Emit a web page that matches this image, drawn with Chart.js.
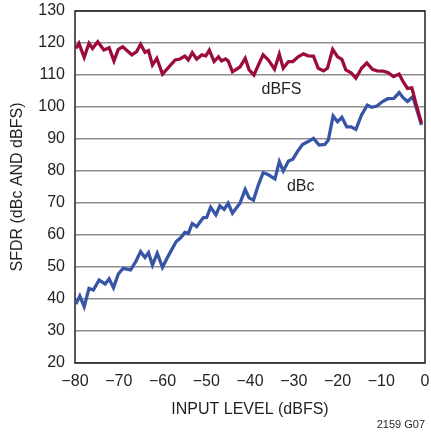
<!DOCTYPE html>
<html lang="en">
<head>
  <meta charset="UTF-8">
  <script src="https://cdn.jsdelivr.net/npm/chart.js"></script>
  <title>SFDR vs Input Level</title>
  <style>
    html, body { margin: 0; padding: 0; background: #fff; }
    #grafico { display: block; }
  </style>
</head>
<body>
  <canvas id="grafico" width="431" height="435"></canvas>

  <script>
    // dBFS curve (input level, SFDR)
    const nivelFS = [-79.8, -79.1, -77.9, -76.8, -76.0, -74.8, -73.4, -72.2, -71.1, -70.1, -69.1, -67.0, -65.9, -65.0, -64.0, -63.2, -62.3, -61.3, -60.0, -57.1, -56.0, -54.9, -54.1, -53.2, -52.2, -51.0, -50.1, -49.3, -48.2, -47.2, -46.5, -45.6, -45.0, -44.0, -42.3, -41.1, -40.2, -39.1, -38.1, -37.0, -35.8, -34.4, -33.3, -32.4, -31.2, -30.2, -29.0, -27.8, -26.7, -25.5, -24.4, -23.2, -22.3, -21.1, -20.0, -19.0, -18.1, -16.9, -15.8, -14.5, -13.3, -12.0, -11.0, -9.5, -8.4, -7.2, -5.9, -5.0, -4.0, -3.0, -2.1, -0.8];
    const sfdrFS = [118.3, 119.9, 115.5, 119.9, 118.3, 120.4, 117.8, 118.5, 114.4, 118.0, 118.8, 116.3, 117.3, 119.6, 117.1, 117.6, 113.1, 115.2, 110.3, 114.7, 115.0, 115.9, 114.7, 117.0, 115.0, 116.3, 116.0, 117.8, 114.2, 115.7, 114.4, 115.0, 114.4, 111.0, 112.5, 115.2, 111.6, 110.0, 113.1, 116.3, 114.7, 111.8, 116.5, 112.1, 114.2, 114.2, 115.7, 116.6, 116.0, 115.9, 112.1, 111.3, 112.1, 118.0, 115.7, 114.9, 111.6, 110.7, 109.0, 112.1, 113.8, 111.8, 111.3, 111.2, 110.7, 109.5, 110.3, 107.9, 105.8, 106.0, 101.2, 94.9];

    // dBc curve
    const nivelC = [-79.8, -78.9, -77.9, -76.8, -75.8, -74.5, -73.1, -72.2, -71.2, -70.1, -69.0, -67.3, -66.1, -65.0, -64.0, -63.2, -62.3, -61.2, -60.0, -58.7, -56.9, -55.8, -54.9, -54.1, -53.2, -52.2, -50.7, -49.9, -49.0, -47.8, -46.9, -45.9, -45.0, -44.0, -42.3, -41.1, -40.2, -39.2, -38.1, -37.0, -35.8, -34.3, -33.3, -32.4, -31.2, -30.2, -29.2, -28.0, -26.7, -25.5, -24.2, -22.9, -22.1, -21.0, -20.0, -19.0, -17.9, -16.9, -15.8, -14.5, -13.2, -12.2, -11.0, -9.7, -8.5, -7.1, -5.9, -5.0, -4.0, -2.8, -1.9, -0.8];
    const sfdrC = [38.4, 40.9, 37.6, 43.3, 42.8, 45.9, 44.7, 46.3, 43.5, 47.8, 49.6, 49.1, 51.7, 54.8, 53.0, 54.5, 50.6, 54.3, 49.9, 53.4, 57.9, 59.2, 60.8, 60.5, 63.6, 62.6, 65.4, 65.5, 68.7, 66.3, 69.1, 68.0, 69.9, 66.8, 69.9, 74.2, 71.6, 70.9, 75.6, 79.5, 78.8, 77.5, 82.9, 80.0, 83.1, 83.7, 86.0, 88.3, 89.2, 90.2, 88.1, 88.3, 89.7, 97.2, 95.4, 96.8, 93.8, 93.8, 93.0, 97.5, 100.6, 99.9, 100.3, 101.7, 102.6, 102.7, 104.5, 102.9, 101.7, 103.2, 99.3, 94.4];

    const xTicks = [-80, -70, -60, -50, -40, -30, -20, -10, 0];
    const yTicks = [20, 30, 40, 50, 60, 70, 80, 90, 100, 110, 120, 130];

    const fonte = '"Liberation Sans", Arial, sans-serif';
    const tinta = '#231f20';

    function pontos(xs, ys) {
      const out = [];
      for (let i = 0; i < xs.length; i++) out.push({ x: xs[i], y: ys[i] });
      return out;
    }

    // box around the plot plus the curve labels and figure number
    const moldura = {
      id: 'moldura',
      beforeDatasetsDraw(chart) {
        const { ctx, chartArea: a } = chart;
        ctx.save();
        ctx.strokeStyle = tinta;
        ctx.lineWidth = 1.5;
        ctx.strokeRect(a.left, a.top, a.right - a.left, a.bottom - a.top);
        ctx.restore();
      },
      afterDraw(chart) {
        const { ctx, scales: { x, y } } = chart;
        ctx.save();
        ctx.fillStyle = tinta;
        ctx.textAlign = 'center';
        ctx.textBaseline = 'middle';
        ctx.font = '16px ' + fonte;
        ctx.fillText('dBFS', x.getPixelForValue(-32.8), y.getPixelForValue(105.4));
        ctx.fillText('dBc', x.getPixelForValue(-28.4), y.getPixelForValue(75.0));
        ctx.font = '11px ' + fonte;
        ctx.textAlign = 'right';
        ctx.fillText('2159 G07', chart.chartArea.right, 425);
        ctx.restore();
      }
    };

    const ctx = document.getElementById('grafico').getContext('2d');
    new Chart(ctx, {
      type: 'line',
      data: {
        datasets: [
          {
            label: 'dBFS',
            data: pontos(nivelFS, sfdrFS),
            borderColor: '#9b0d38',
            borderWidth: 3.3,
            pointRadius: 0,
            tension: 0
          },
          {
            label: 'dBc',
            data: pontos(nivelC, sfdrC),
            borderColor: '#3655a6',
            borderWidth: 3.3,
            pointRadius: 0,
            tension: 0
          }
        ]
      },
      options: {
        responsive: false,
        animation: false,
        devicePixelRatio: 1,
        layout: { padding: { left: 0, top: 11, right: 6, bottom: 0 } },
        plugins: {
          legend: { display: false },
          tooltip: { enabled: false }
        },
        scales: {
          x: {
            type: 'linear',
            min: -80,
            max: 0,
            afterFit: s => {
              s.height = 72;
              s.paddingLeft = 0;
              s.paddingRight = 0;
            },
            afterBuildTicks: s => { s.ticks = xTicks.map(v => ({ value: v })); },
            grid: { display: false, drawTicks: false },
            border: { display: false },
            ticks: {
              color: tinta,
              font: { family: fonte, size: 16 },
              padding: 9,
              maxRotation: 0,
              callback: v => (v < 0 ? '\u2212' + Math.abs(v) : String(v))
            },
            title: {
              display: true,
              text: 'INPUT LEVEL (dBFS)',
              color: tinta,
              font: { family: fonte, size: 16 },
              padding: { top: 0, bottom: 16 }
            }
          },
          y: {
            type: 'linear',
            min: 20,
            max: 130,
            afterFit: s => {
              s.width = 75;
              s.paddingTop = 0;
              s.paddingBottom = 0;
            },
            afterBuildTicks: s => { s.ticks = yTicks.map(v => ({ value: v })); },
            grid: { color: '#8e8e8e', lineWidth: 1.4, drawTicks: false },
            border: { display: false },
            ticks: {
              color: tinta,
              font: { family: fonte, size: 16 },
              padding: 10
            },
            title: {
              display: true,
              text: 'SFDR (dBc AND dBFS)',
              color: tinta,
              font: { family: fonte, size: 16 },
              padding: { top: 8, bottom: 0 }
            }
          }
        }
      },
      plugins: [moldura]
    });
  </script>
</body>
</html>
